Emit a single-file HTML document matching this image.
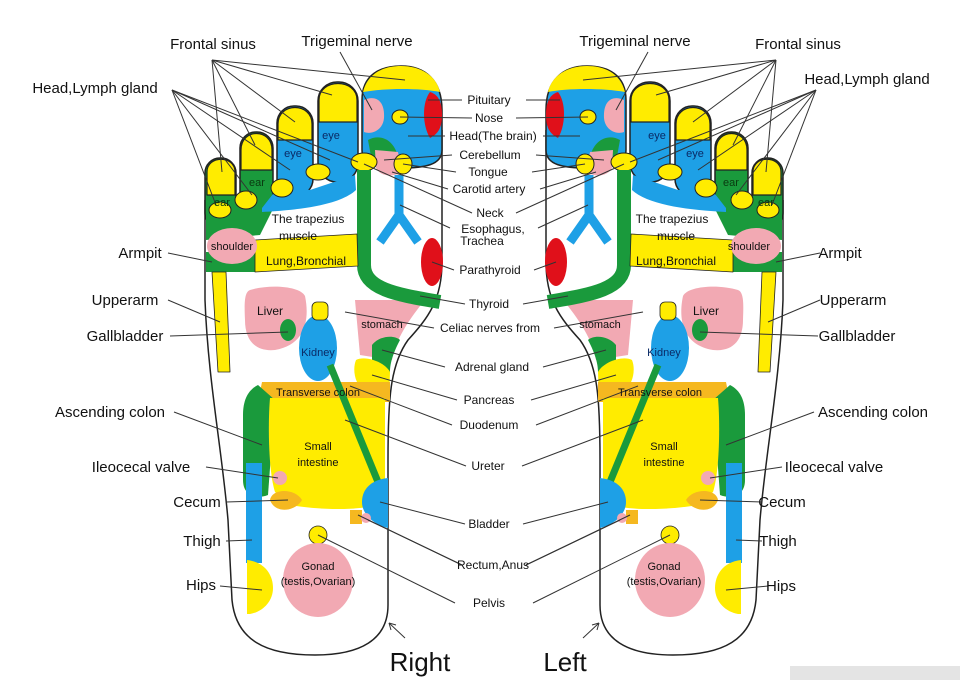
<!DOCTYPE html>
<html><head><meta charset="utf-8"><style>
html,body{margin:0;padding:0;background:#fff;width:960px;height:680px;overflow:hidden}
svg{display:block}
text{font-family:"Liberation Sans",Arial,sans-serif;fill:#111}
.s{font-size:15px}
.c{font-size:12px}
.t{font-size:11px}
</style></head><body>
<svg width="960" height="680" viewBox="0 0 960 680" xmlns="http://www.w3.org/2000/svg">
<rect x="790" y="666" width="170" height="14" fill="#e4e4e4"/>
<defs>
<g id="R" stroke-linejoin="round">
 <!-- foot body -->
 <path d="M205 200 L205 300 C208 380 222 450 228 520 L232 600 C236 640 265 655 315 655 C360 655 388 640 388 605 L388 460 C388 400 390 365 408 340 C428 318 442 300 442 262 L442 130" fill="#fff" stroke="#222" stroke-width="1.5"/>
 <!-- toes -->
 <rect x="205" y="158" width="31" height="70" rx="15" fill="#1a9a3c" stroke="#222" stroke-width="1.5"/>
 <rect x="240" y="132" width="33" height="80" rx="16" fill="#1a9a3c" stroke="#222" stroke-width="1.5"/>
 <rect x="277" y="106" width="36" height="90" rx="17" fill="#1ea0e6" stroke="#222" stroke-width="1.5"/>
 <rect x="318" y="82" width="40" height="100" rx="19" fill="#1ea0e6" stroke="#222" stroke-width="1.5"/>
 <path d="M206 190 L206 240 L260 235 L275 205 L240 200 Z" fill="#1a9a3c"/>
 <path d="M262 208 L280 185 L310 190 L355 175 L356 190 C340 205 300 210 262 212 Z" fill="#1ea0e6"/>
 <path d="M207 172 C207 155 235 155 235 172 L235 195 L207 195 Z" fill="#ffec00" stroke="#222" stroke-width="1.2"/>
 <path d="M241 150 C241 128 272 128 272 150 L272 170 L241 170 Z" fill="#ffec00" stroke="#222" stroke-width="1.2"/>
 <path d="M278 124 C278 102 312 102 312 124 L312 140 L278 140 Z" fill="#ffec00" stroke="#222" stroke-width="1.2"/>
 <path d="M319 100 C319 78 357 78 357 100 L357 122 L319 122 Z" fill="#ffec00" stroke="#222" stroke-width="1.2"/>
 <ellipse cx="220" cy="210" rx="11" ry="8" fill="#ffec00" stroke="#222"/>
 <ellipse cx="246" cy="200" rx="11" ry="9" fill="#ffec00" stroke="#222"/>
 <ellipse cx="282" cy="188" rx="11" ry="9" fill="#ffec00" stroke="#222"/>
 <ellipse cx="318" cy="172" rx="12" ry="8" fill="#ffec00" stroke="#222"/>
 <!-- big toe -->
 <path d="M362 150 L362 100 C362 75 380 66 401 66 C425 66 442 80 442 110 L442 150 C442 165 425 168 400 168 C375 168 362 165 362 150 Z" fill="#1ea0e6" stroke="#222" stroke-width="1.5"/>
 <path d="M363 92 C368 72 385 66 401 66 C420 66 436 75 440 92 C420 88 385 88 363 92 Z" fill="#ffec00"/>
 <path d="M364 100 C375 95 385 100 384 118 C383 130 372 135 364 132 Z" fill="#f2a9b3"/>
 <path d="M430 92 C440 95 442 105 442 115 C442 125 440 133 430 138 C422 125 422 102 430 92 Z" fill="#e0101a"/>
 <ellipse cx="400" cy="117" rx="8" ry="7" fill="#ffec00" stroke="#222"/>
 <path d="M368 140 C380 133 395 140 398 158 L372 162 Z" fill="#1a9a3c"/>
 <path d="M375 150 L398 152 L402 172 C392 178 380 176 376 168 Z" fill="#f2a9b3"/>
 <ellipse cx="403" cy="164" rx="9" ry="10" fill="#ffec00" stroke="#222"/>
 <ellipse cx="364" cy="162" rx="13" ry="9" fill="#ffec00" stroke="#222"/>
 <!-- trachea -->
 <path d="M399 175 L399 215 L380 242 M399 215 L418 242" fill="none" stroke="#1ea0e6" stroke-width="9"/>
 <ellipse cx="432" cy="262" rx="11" ry="24" fill="#e0101a"/>
 <!-- stomach etc -->
 <path d="M355 300 L425 300 C410 318 395 340 392 360 L360 355 Z" fill="#f2a9b3"/>
 <path d="M372 345 C380 335 395 335 400 340 C392 355 390 365 390 372 L372 365 Z" fill="#1a9a3c"/>
 <path d="M356 360 C365 355 385 362 390 372 L389 398 L365 392 C355 385 352 370 356 360 Z" fill="#ffec00"/>
 <!-- green long band -->
 <path d="M364 170 L364 265 C364 290 400 295 440 302" fill="none" stroke="#1a9a3c" stroke-width="14"/>
 <!-- shoulder / lung -->
 <path d="M206 252 L258 252 L258 272 L206 272 Z" fill="#1a9a3c"/>
 <path d="M255 240 L357 234 L358 266 L255 272 Z" fill="#ffec00" stroke="#222" stroke-width="0.8"/>
 <ellipse cx="232" cy="246" rx="25" ry="18" fill="#f2a9b3"/>
 <path d="M212 272 L226 272 L230 372 L218 372 Z" fill="#ffec00" stroke="#222" stroke-width="0.8"/>
 <!-- liver / kidney -->
 <path d="M250 290 C270 284 300 286 305 296 C310 320 305 345 275 350 C255 352 245 340 245 320 C244 300 245 292 250 290 Z" fill="#f2a9b3"/>
 <ellipse cx="288" cy="330" rx="8" ry="11" fill="#1a9a3c"/>
 <ellipse cx="318" cy="348" rx="19" ry="33" fill="#1ea0e6"/>
 <rect x="312" y="302" width="16" height="18" rx="5" fill="#ffec00" stroke="#222" stroke-width="0.8"/>
 <!-- colon -->
 <path d="M262 382 L390 382 L390 402 L258 402 Z" fill="#f5b820"/>
 <path d="M258 385 C248 390 243 400 243 415 L243 480 C243 495 255 500 268 495 L275 400 Z" fill="#1a9a3c"/>
 <path d="M270 398 L385 398 L385 498 C385 510 330 512 290 505 L275 492 C268 470 268 420 270 398 Z" fill="#ffec00"/>
 <line x1="330" y1="365" x2="378" y2="482" stroke="#1a9a3c" stroke-width="7"/>
 <path d="M388 478 C370 480 362 490 362 502 C362 515 375 525 388 528 Z" fill="#1ea0e6"/>
 <circle cx="280" cy="478" r="7" fill="#f2a9b3"/>
 <path d="M270 500 C272 488 295 488 302 500 C295 512 275 514 270 500 Z" fill="#f5b820"/>
 <rect x="350" y="510" width="12" height="14" fill="#f5b820"/>
 <circle cx="366" cy="518" r="5" fill="#f2a9b3"/>
 <!-- thigh / hips -->
 <rect x="246" y="463" width="16" height="100" fill="#1ea0e6"/>
 <path d="M247 560 C265 562 273 575 273 588 C273 602 262 612 250 614 L247 614 Z" fill="#ffec00"/>
 <circle cx="318" cy="535" r="9" fill="#ffec00" stroke="#222" stroke-width="0.8"/>
 <ellipse cx="318" cy="580" rx="35" ry="37" fill="#f2a9b3"/>
 <!-- leader lines -->
 <g stroke="#333" stroke-width="1" fill="none">
  <line x1="212" y1="60" x2="222" y2="172"/><line x1="212" y1="60" x2="255" y2="145"/><line x1="212" y1="60" x2="295" y2="122"/><line x1="212" y1="60" x2="332" y2="95"/><line x1="212" y1="60" x2="405" y2="80"/>
  <line x1="172" y1="90" x2="216" y2="205"/><line x1="172" y1="90" x2="252" y2="195"/><line x1="172" y1="90" x2="290" y2="170"/><line x1="172" y1="90" x2="330" y2="160"/><line x1="172" y1="90" x2="358" y2="162"/>
  <line x1="340" y1="52" x2="372" y2="110"/>
  <line x1="168" y1="253" x2="212" y2="262"/><line x1="168" y1="300" x2="220" y2="322"/><line x1="170" y1="336" x2="288" y2="332"/>
  <line x1="174" y1="412" x2="262" y2="445"/><line x1="206" y1="467" x2="278" y2="478"/><line x1="226" y1="502" x2="288" y2="500"/><line x1="226" y1="541" x2="252" y2="540"/><line x1="220" y1="586" x2="262" y2="590"/>
  <line x1="428" y1="100" x2="462" y2="100"/><line x1="400" y1="117" x2="472" y2="118"/><line x1="408" y1="136" x2="445" y2="136"/><line x1="384" y1="160" x2="452" y2="155"/><line x1="403" y1="164" x2="456" y2="172"/><line x1="392" y1="172" x2="448" y2="189"/><line x1="364" y1="164" x2="472" y2="213"/><line x1="400" y1="205" x2="450" y2="228"/><line x1="432" y1="262" x2="454" y2="270"/><line x1="420" y1="296" x2="465" y2="304"/><line x1="345" y1="312" x2="434" y2="328"/><line x1="382" y1="350" x2="445" y2="367"/><line x1="372" y1="375" x2="457" y2="400"/><line x1="350" y1="386" x2="452" y2="425"/><line x1="345" y1="420" x2="466" y2="466"/><line x1="380" y1="502" x2="465" y2="524"/><line x1="358" y1="515" x2="462" y2="565"/><line x1="368" y1="520" x2="462" y2="565"/><line x1="318" y1="535" x2="455" y2="603"/>
  <line x1="405" y1="638" x2="389" y2="623"/>
  <path d="M389 623 L396 625 M389 623 L391 630"/>
 </g>
</g>
</defs>
<use href="#R"/>
<use href="#R" transform="translate(988 0) scale(-1 1)"/>
<!-- foot labels right foot -->
<text class="t" x="331" y="139" text-anchor="middle" style="fill:#0a2a66">eye</text>
<text class="t" x="293" y="157" text-anchor="middle" style="fill:#0a2a66">eye</text>
<text class="t" x="257" y="186" text-anchor="middle" style="fill:#0a3a10">ear</text>
<text class="t" x="222" y="206" text-anchor="middle" style="fill:#0a3a10">ear</text>
<text class="c" x="308" y="223" text-anchor="middle">The trapezius</text>
<text class="c" x="298" y="240" text-anchor="middle">muscle</text>
<text class="t" x="232" y="250" text-anchor="middle">shoulder</text>
<text class="c" x="306" y="265" text-anchor="middle">Lung,Bronchial</text>
<text class="c" x="270" y="315" text-anchor="middle">Liver</text>
<text class="t" x="382" y="328" text-anchor="middle">stomach</text>
<text class="t" x="318" y="356" text-anchor="middle" style="fill:#0a2a66">Kidney</text>
<text class="t" x="318" y="396" text-anchor="middle">Transverse colon</text>
<text class="t" x="318" y="450" text-anchor="middle">Small</text>
<text class="t" x="318" y="466" text-anchor="middle">intestine</text>
<text class="t" x="318" y="570" text-anchor="middle">Gonad</text>
<text class="t" x="318" y="585" text-anchor="middle">(testis,Ovarian)</text>
<!-- left foot inner labels -->
<text class="t" x="657" y="139" text-anchor="middle" style="fill:#0a2a66">eye</text>
<text class="t" x="695" y="157" text-anchor="middle" style="fill:#0a2a66">eye</text>
<text class="t" x="731" y="186" text-anchor="middle" style="fill:#0a3a10">ear</text>
<text class="t" x="766" y="206" text-anchor="middle" style="fill:#0a3a10">ear</text>
<text class="c" x="672" y="223" text-anchor="middle">The trapezius</text>
<text class="c" x="676" y="240" text-anchor="middle">muscle</text>
<text class="t" x="749" y="250" text-anchor="middle">shoulder</text>
<text class="c" x="676" y="265" text-anchor="middle">Lung,Bronchial</text>
<text class="c" x="706" y="315" text-anchor="middle">Liver</text>
<text class="t" x="600" y="328" text-anchor="middle">stomach</text>
<text class="t" x="664" y="356" text-anchor="middle" style="fill:#0a2a66">Kidney</text>
<text class="t" x="660" y="396" text-anchor="middle">Transverse colon</text>
<text class="t" x="664" y="450" text-anchor="middle">Small</text>
<text class="t" x="664" y="466" text-anchor="middle">intestine</text>
<text class="t" x="664" y="570" text-anchor="middle">Gonad</text>
<text class="t" x="664" y="585" text-anchor="middle">(testis,Ovarian)</text>
<!-- side labels -->
<text class="s" x="213" y="49" text-anchor="middle">Frontal sinus</text>
<text class="s" x="357" y="46" text-anchor="middle">Trigeminal nerve</text>
<text class="s" x="95" y="93" text-anchor="middle">Head,Lymph gland</text>
<text class="s" x="140" y="258" text-anchor="middle">Armpit</text>
<text class="s" x="125" y="305" text-anchor="middle">Upperarm</text>
<text class="s" x="125" y="341" text-anchor="middle">Gallbladder</text>
<text class="s" x="110" y="417" text-anchor="middle">Ascending colon</text>
<text class="s" x="141" y="472" text-anchor="middle">Ileocecal valve</text>
<text class="s" x="197" y="507" text-anchor="middle">Cecum</text>
<text class="s" x="202" y="546" text-anchor="middle">Thigh</text>
<text class="s" x="201" y="590" text-anchor="middle">Hips</text>
<text class="s" x="635" y="46" text-anchor="middle">Trigeminal nerve</text>
<text class="s" x="798" y="49" text-anchor="middle">Frontal sinus</text>
<text class="s" x="867" y="84" text-anchor="middle">Head,Lymph gland</text>
<text class="s" x="840" y="258" text-anchor="middle">Armpit</text>
<text class="s" x="853" y="305" text-anchor="middle">Upperarm</text>
<text class="s" x="857" y="341" text-anchor="middle">Gallbladder</text>
<text class="s" x="873" y="417" text-anchor="middle">Ascending colon</text>
<text class="s" x="834" y="472" text-anchor="middle">Ileocecal valve</text>
<text class="s" x="782" y="507" text-anchor="middle">Cecum</text>
<text class="s" x="778" y="546" text-anchor="middle">Thigh</text>
<text class="s" x="781" y="591" text-anchor="middle">Hips</text>
<!-- center labels -->
<g class="c" text-anchor="middle">
<text class="c" x="489" y="104">Pituitary</text>
<text class="c" x="489" y="122">Nose</text>
<text class="c" x="493" y="140">Head(The brain)</text>
<text class="c" x="490" y="159">Cerebellum</text>
<text class="c" x="488" y="176">Tongue</text>
<text class="c" x="489" y="193">Carotid artery</text>
<text class="c" x="490" y="217">Neck</text>
<text class="c" x="493" y="233">Esophagus,</text>
<text class="c" x="482" y="245">Trachea</text>
<text class="c" x="490" y="274">Parathyroid</text>
<text class="c" x="489" y="308">Thyroid</text>
<text class="c" x="490" y="332">Celiac nerves from</text>
<text class="c" x="492" y="371">Adrenal gland</text>
<text class="c" x="489" y="404">Pancreas</text>
<text class="c" x="489" y="429">Duodenum</text>
<text class="c" x="488" y="470">Ureter</text>
<text class="c" x="489" y="528">Bladder</text>
<text class="c" x="493" y="569">Rectum,Anus</text>
<text class="c" x="489" y="607">Pelvis</text>
</g>
<text x="420" y="671" text-anchor="middle" style="font-size:26px">Right</text>
<text x="565" y="671" text-anchor="middle" style="font-size:26px">Left</text>
</svg>
</body></html>
